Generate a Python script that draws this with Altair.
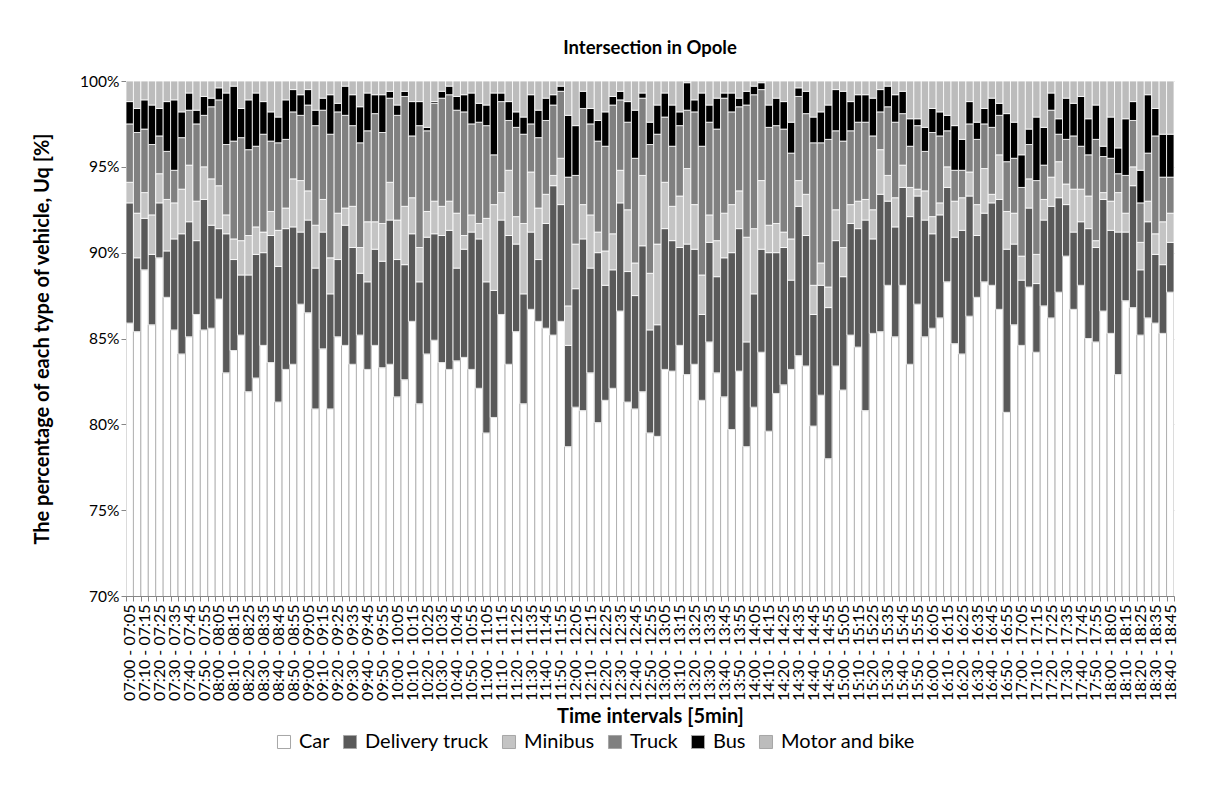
import altair as alt
import pandas as pd

# ---- values (percent of vehicles per 5-min interval) ----
car = [85.9, 85.4, 89.0, 85.8, 89.7, 87.4, 85.5, 84.1, 85.1, 86.4,
       85.5, 85.6, 87.3, 83.0, 84.3, 85.2, 81.9, 82.7, 84.6, 83.6,
       81.3, 83.2, 83.5, 87.0, 86.5, 80.9, 84.4, 80.9, 85.1, 84.6,
       83.5, 85.2, 83.2, 84.6, 83.3, 83.5, 81.6, 82.6, 86.0, 81.2,
       84.1, 84.9, 83.6, 83.2, 83.7, 83.9, 83.2, 82.1, 79.5, 80.4,
       86.4, 83.5, 85.4, 81.2, 86.7, 86.0, 85.6, 85.2, 86.0, 78.7,
       81.0, 80.8, 83.0, 80.1, 81.4, 82.1, 86.6, 81.3, 80.9, 81.9,
       79.5, 79.3, 83.2, 83.1, 84.6, 82.9, 83.5, 81.4, 84.8, 83.0,
       81.6, 79.7, 83.1, 78.7, 81.0, 84.2, 79.6, 81.8, 82.3, 83.2,
       84.0, 83.4, 79.9, 81.7, 78.0, 83.4, 82.0, 85.2, 84.5, 80.8,
       85.3, 85.4, 88.1, 85.1, 88.1, 83.5, 87.0, 85.1, 85.6, 86.2,
       88.3, 84.7, 84.1, 86.3, 87.4, 88.3, 88.1, 86.7, 80.7, 85.8,
       84.6, 88.0, 84.2, 86.9, 86.2, 87.7, 89.8, 86.7, 88.1, 85.0,
       84.8, 86.6, 85.3, 82.9, 87.2, 86.8, 85.2, 86.2, 85.9, 85.3,
       87.7]
delivery = [7.0, 4.3, 3.0, 4.1, 3.2, 2.7, 5.3, 7.0, 6.7, 4.3,
            7.6, 6.0, 4.1, 8.1, 5.3, 3.5, 6.8, 7.2, 5.4, 7.4,
            7.9, 8.2, 8.0, 4.2, 5.4, 8.2, 6.8, 6.7, 4.5, 7.0,
            6.8, 3.6, 5.1, 5.6, 6.2, 8.4, 8.0, 6.7, 5.1, 7.1,
            6.8, 6.2, 7.4, 8.1, 5.4, 6.3, 8.0, 8.7, 8.8, 7.4,
            5.5, 7.5, 5.1, 6.4, 4.5, 3.6, 6.1, 8.7, 6.8, 5.9,
            6.9, 10.0, 6.1, 9.9, 6.7, 6.9, 6.3, 7.6, 6.6, 8.5,
            6.0, 6.5, 8.2, 7.6, 5.7, 7.6, 6.7, 5.0, 5.8, 5.6,
            8.1, 10.3, 8.3, 6.1, 6.6, 6.0, 10.4, 8.2, 8.0, 5.2,
            8.7, 7.6, 6.5, 6.4, 8.8, 7.3, 6.6, 6.5, 6.9, 11.1,
            5.5, 8.0, 4.9, 6.4, 5.7, 8.6, 6.3, 6.8, 5.5, 6.0,
            5.5, 6.2, 7.2, 7.0, 3.6, 4.0, 4.8, 6.4, 9.5, 4.7,
            3.8, 4.6, 4.0, 5.0, 6.5, 5.5, 3.0, 4.5, 3.7, 6.4,
            5.5, 6.5, 6.0, 8.3, 4.0, 7.1, 3.8, 5.6, 4.0, 4.0,
            2.9]
minibus = [1.2, 2.6, 1.5, 2.3, 1.7, 3.0, 2.1, 2.6, 3.3, 2.3,
           1.9, 2.7, 2.5, 1.1, 1.2, 2.0, 2.3, 1.6, 1.2, 1.4,
           2.1, 1.2, 2.8, 3.0, 1.7, 2.5, 1.9, 2.1, 2.7, 1.0,
           2.4, 1.5, 3.5, 1.6, 2.2, 2.2, 2.3, 3.4, 2.1, 2.0,
           1.5, 1.9, 1.7, 1.7, 3.2, 0.8, 1.0, 0.9, 3.7, 5.0,
           1.6, 3.8, 1.6, 4.1, 3.5, 3.0, 1.7, 0.6, 2.7, 2.3,
           2.6, 2.0, 3.1, 1.2, 2.0, 2.1, 1.9, 3.6, 1.9, 4.1,
           3.3, 4.7, 2.7, 2.0, 3.0, 4.4, 2.6, 2.3, 1.6, 2.1,
           2.6, 2.8, 2.2, 6.1, 3.8, 4.0, 1.6, 1.7, 0.9, 2.4,
           1.5, 2.4, 1.7, 1.3, 1.2, 1.8, 1.7, 1.1, 1.6, 1.2,
           1.7, 2.6, 1.5, 1.7, 1.3, 1.7, 0.4, 1.7, 1.0, 0.7,
           1.2, 2.1, 1.9, 1.4, 1.8, 2.6, 0.5, 2.6, 2.2, 1.8,
           1.4, 1.7, 1.7, 1.2, 1.7, 2.1, 1.2, 2.5, 1.9, 1.9,
           0.4, 0.4, 1.7, 2.3, 1.1, 1.1, 1.6, 1.2, 1.2, 2.5,
           1.7]
truck = [3.4, 4.7, 3.7, 4.1, 2.2, 2.8, 1.9, 3.0, 3.2, 4.5,
         3.0, 4.2, 5.0, 4.1, 5.7, 6.0, 5.0, 4.7, 5.7, 4.1,
         5.1, 4.0, 3.9, 3.8, 5.0, 5.8, 5.2, 7.2, 5.9, 5.4,
         4.7, 6.1, 5.3, 6.3, 5.3, 4.9, 6.1, 6.4, 3.6, 7.1,
         4.7, 5.7, 6.3, 6.2, 6.0, 7.2, 5.3, 5.9, 5.4, 2.9,
         5.3, 2.9, 5.2, 5.2, 2.8, 4.1, 4.3, 4.1, 3.9, 7.5,
         4.0, 5.6, 5.3, 5.3, 6.1, 7.5, 4.1, 5.1, 6.1, 4.5,
         7.5, 6.4, 3.8, 3.5, 4.1, 3.4, 5.4, 7.5, 5.4, 6.5,
         6.7, 5.4, 4.9, 7.7, 7.8, 5.3, 5.7, 5.7, 6.0, 5.0,
         4.9, 4.7, 8.3, 7.0, 8.6, 4.6, 6.2, 4.3, 4.6, 4.5,
         4.3, 2.2, 4.0, 4.4, 3.0, 2.4, 3.7, 2.3, 4.9, 3.9,
         2.1, 1.8, 1.6, 2.8, 3.8, 2.6, 3.9, 2.3, 2.9, 3.2,
         4.0, 2.0, 4.3, 2.0, 3.9, 1.6, 2.6, 3.1, 2.5, 2.4,
         5.9, 2.1, 2.5, 1.1, 2.2, 2.7, 2.3, 2.8, 5.7, 2.6,
         2.1]
bus = [1.3, 1.4, 1.7, 2.3, 1.6, 2.9, 4.1, 1.5, 1.0, 0.8,
       1.1, 0.5, 0.7, 3.0, 3.2, 1.7, 2.9, 3.1, 1.9, 1.7,
       1.5, 2.3, 1.3, 1.2, 0.9, 0.9, 0.7, 2.3, 0.5, 1.7,
       1.8, 2.1, 2.2, 1.1, 2.2, 0.4, 0.6, 0.3, 2.0, 1.4,
       0.2, 0.1, 0.4, 0.5, 0.8, 1.0, 1.8, 1.1, 1.2, 3.6,
       0.5, 1.1, 0.9, 1.0, 1.7, 1.6, 1.3, 0.6, 0.3, 3.6,
       2.9, 1.0, 0.9, 1.2, 2.0, 0.5, 0.5, 1.2, 2.8, 0.3,
       1.3, 1.7, 1.4, 2.4, 0.8, 1.6, 0.7, 3.1, 1.0, 1.8,
       0.3, 1.1, 0.5, 0.8, 0.5, 0.4, 1.3, 1.6, 1.6, 1.8,
       0.5, 1.3, 1.5, 1.8, 2.0, 2.4, 2.9, 1.7, 1.6, 1.6,
       2.2, 1.3, 1.2, 1.6, 1.3, 1.6, 0.4, 1.4, 1.4, 1.4,
       0.9, 2.6, 1.8, 1.3, 1.0, 0.9, 1.7, 0.7, 2.8, 2.1,
       1.9, 0.9, 3.7, 2.2, 1.0, 0.9, 2.4, 1.9, 2.9, 2.1,
       2.0, 0.6, 2.4, 1.5, 3.3, 1.1, 1.9, 3.4, 1.6, 2.5,
       2.5]
motor = [1.2, 1.6, 1.1, 1.4, 1.6, 1.2, 1.1, 1.8, 0.7, 1.7,
         0.9, 1.0, 0.4, 0.7, 0.3, 1.6, 1.1, 0.7, 1.2, 1.8,
         2.1, 1.1, 0.5, 0.8, 0.5, 1.7, 1.0, 0.8, 1.3, 0.3,
         0.8, 1.5, 0.7, 0.8, 0.8, 0.6, 1.4, 0.6, 1.2, 1.2,
         2.7, 1.2, 0.6, 0.3, 0.9, 0.8, 0.7, 1.3, 1.4, 0.7,
         0.7, 1.2, 1.8, 2.1, 0.8, 1.7, 1.0, 0.8, 0.3, 2.0,
         2.6, 0.6, 1.6, 2.3, 1.8, 0.9, 0.6, 1.2, 1.7, 0.7,
         2.4, 1.4, 0.7, 1.4, 1.8, 0.1, 1.1, 0.7, 1.4, 1.0,
         0.7, 0.7, 1.0, 0.6, 0.3, 0.1, 1.4, 1.0, 1.2, 2.4,
         0.4, 0.6, 2.1, 1.8, 1.4, 0.5, 0.6, 1.2, 0.8, 0.8,
         1.0, 0.5, 0.3, 0.8, 0.6, 2.2, 2.2, 2.7, 1.6, 1.8,
         2.0, 2.6, 3.4, 1.2, 2.4, 1.6, 1.0, 1.3, 1.9, 2.4,
         4.3, 2.8, 2.1, 2.7, 0.7, 2.2, 1.0, 1.3, 0.9, 2.2,
         1.4, 3.8, 2.1, 3.9, 2.2, 1.2, 5.2, 0.8, 1.6, 3.1,
         3.1]

types = ["Car", "Delivery truck", "Minibus", "Truck", "Bus", "Motor and bike"]
fills = ["#ffffff", "#595959", "#c4c4c4", "#808080", "#000000", "#bcbcbc"]
y_ticks = [0.70, 0.75, 0.80, 0.85, 0.90, 0.95, 1.00]


def hm(m):
    return f"{m // 60:02d}:{m % 60:02d}"


n = len(car)
intervals = [f"{hm(420 + 5 * i)} - {hm(425 + 5 * i)}" for i in range(n)]

series = [car, delivery, minibus, truck, bus, motor]
rows = []
for i, lab in enumerate(intervals):
    for k, t in enumerate(types):
        rows.append({"interval": lab, "vehicle": t, "idx": k, "value": series[k][i]})
df = pd.DataFrame(rows)

FONT = "Lato"

chart = alt.Chart(df).mark_bar(clip=True, strokeWidth=0.8).encode(
    x=alt.X("interval:N", sort=intervals,
            scale=alt.Scale(paddingInner=0, paddingOuter=0),
            axis=alt.Axis(title="Time intervals [5min]", labelAngle=270,
                          labelExpr="slice(datum.label, 4, 5) == '0' ? datum.label : ''",
                          tickBand="extent",
                          labelOverlap=False, labelFontSize=16, labelColor="#000000",
                          labelPadding=3, tickSize=5,
                          tickColor="#868686", domainColor="#868686",
                          titleFontSize=20, titleFontWeight="bold",
                          titleColor="#000000", titlePadding=6)),
    y=alt.Y("value:Q", stack="normalize",
            scale=alt.Scale(domain=[0.7, 1.0]),
            axis=alt.Axis(title="The percentage of each type of vehicle, Uq  [%]",
                          format=".0%", values=y_ticks, labelFontSize=15.5,
                          labelColor="#000000", tickSize=5, tickColor="#868686",
                          domainColor="#868686", gridColor="#d9d9d9",
                          titleFontSize=20, titleFontWeight="bold",
                          titleColor="#000000", titlePadding=27)),
    fill=alt.Fill("vehicle:N", sort=types,
                  scale=alt.Scale(domain=types, range=fills),
                  legend=alt.Legend(title=None, orient="none", direction="horizontal",
                                    legendX=148, legendY=651,
                                    labelFontSize=20,
                                    labelColor="#000000", symbolType="square",
                                    symbolSize=170, columnPadding=10,
                                    symbolStrokeColor="#a6a6a6",
                                    symbolStrokeWidth=1, labelOffset=5)),
    stroke=alt.condition(alt.datum.vehicle == "Car", alt.value("#a6a6a6"), alt.value("#ffffff")),
    order=alt.Order("idx:Q"),
).properties(
    width=1048, height=515,
    padding={"left": 24, "top": 30, "right": 5, "bottom": 5},
    title=alt.TitleParams("Intersection in Opole", fontSize=18.5, fontWeight="bold",
                          font=FONT, color="#000000", offset=17, anchor="middle"),
).configure(
    font=FONT,
).configure_view(
    stroke=None,
)

chart.save("out.html", embed_options={"renderer": "svg", "actions": False})
